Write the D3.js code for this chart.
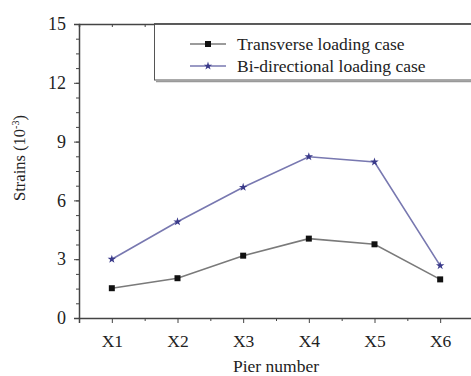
<!DOCTYPE html>
<html>
<head>
<meta charset="utf-8">
<script src="https://cdn.jsdelivr.net/npm/d3@7"></script>
<style>
  body { margin: 0; background: #fff; }
  svg text { font-family: "Liberation Serif", "Times New Roman", "DejaVu Serif", serif !important; fill: #222; }
</style>
</head>
<body>
<div class="chart"></div>
<script>
// values
const piers = ['X1', 'X2', 'X3', 'X4', 'X5', 'X6'];
const transverse = [1.52, 2.03, 3.18, 4.05, 3.76, 1.97];
const biDirectional = [3.0, 4.91, 6.67, 8.23, 7.96, 2.67];
const yTicks = [0, 3, 6, 9, 12, 15];
const seriesNames = ['Transverse loading case', 'Bi-directional loading case'];

const width = 471;
const height = 376;
const margin = { top: 24, right: -2, bottom: 58, left: 79 };
const serif = '"Liberation Serif", "Times New Roman", serif';

const svg = d3.select('.chart')
  .append('svg')
  .attr('width', width)
  .attr('height', height);

const x = d3.scaleLinear()
  .domain([0.5, 6.5])
  .range([margin.left, width - margin.right]);

const y = d3.scaleLinear()
  .domain([0, 15])
  .range([height - margin.bottom, margin.top]);

const axisColor = '#444';

// y axis, major + minor ticks
const yMinor = d3.range(0, 15.01, 0.75);
svg.append('g')
  .attr('transform', `translate(${margin.left},0)`)
  .call(d3.axisLeft(y).tickValues(yMinor).tickSize(3).tickFormat(''))
  .call(g => g.select('.domain').remove())
  .call(g => g.selectAll('line').attr('stroke', axisColor));

svg.append('g')
  .attr('transform', `translate(${margin.left},0)`)
  .attr('font-family', serif)
  .call(d3.axisLeft(y).tickValues(yTicks).tickSize(5).tickPadding(8))
  .call(g => g.select('.domain').attr('stroke', axisColor).attr('stroke-width', 1.5))
  .call(g => g.selectAll('line').attr('stroke', axisColor))
  .call(g => g.selectAll('text').attr('font-size', 18));

// x axis bottom
const xMinor = d3.range(1.5, 6.5, 1);
svg.append('g')
  .attr('transform', `translate(0,${y(0)})`)
  .call(d3.axisBottom(x).tickValues(xMinor).tickSize(3).tickFormat(''))
  .call(g => g.select('.domain').remove())
  .call(g => g.selectAll('line').attr('stroke', axisColor));

svg.append('g')
  .attr('transform', `translate(0,${y(0)})`)
  .attr('font-family', serif)
  .call(d3.axisBottom(x).tickValues(d3.range(1, 7)).tickSize(5).tickPadding(12)
    .tickFormat(d => piers[d - 1]))
  .call(g => g.select('.domain').attr('stroke', axisColor).attr('stroke-width', 1.5))
  .call(g => g.selectAll('line').attr('stroke', axisColor))
  .call(g => g.selectAll('text').attr('font-size', 17.5));

// top axis, ticks inward
svg.append('g')
  .attr('transform', `translate(0,${y(15)})`)
  .call(d3.axisBottom(x).tickValues(d3.range(1, 7).concat(xMinor)).tickSize(3).tickFormat(''))
  .call(g => g.select('.domain').attr('stroke', axisColor).attr('stroke-width', 1.5))
  .call(g => g.selectAll('line').attr('stroke', axisColor));

// axis titles
svg.append('text')
  .attr('x', x(3.5))
  .attr('y', 372)
  .attr('text-anchor', 'middle')
  .attr('font-size', 17.5)
  .text('Pier number');

const yTitle = svg.append('text')
  .attr('transform', `translate(25,158) rotate(-90)`)
  .attr('text-anchor', 'middle')
  .attr('font-size', 16.5);
yTitle.append('tspan').text('Strains (10');
yTitle.append('tspan').attr('font-size', 10).attr('dy', -6).text('-3');
yTitle.append('tspan').attr('dy', 6).text(')');

// lines
const line = d3.line()
  .x((d, i) => x(i + 1))
  .y(d => y(d));

const series = [
  { name: seriesNames[0], values: transverse, color: '#7a7a7a', marker: '#111', shape: d3.symbolSquare, size: 36 },
  { name: seriesNames[1], values: biDirectional, color: '#7878b0', marker: '#3a3a8a', shape: d3.symbolStar, size: 22 }
];

series.forEach(s => {
  svg.append('path')
    .datum(s.values)
    .attr('fill', 'none')
    .attr('stroke', s.color)
    .attr('stroke-width', 1.6)
    .attr('d', line);

  svg.selectAll(null)
    .data(s.values)
    .enter()
      .append('path')
      .attr('transform', (d, i) => `translate(${x(i + 1)},${y(d)})`)
      .attr('d', d3.symbol().type(s.shape).size(s.size))
      .attr('fill', s.marker);
});

// legend box
const legend = svg.append('g');
legend.append('rect')
  .attr('x', 154.5)
  .attr('y', y(15))
  .attr('width', 330)
  .attr('height', 56)
  .attr('fill', '#fff')
  .attr('stroke', '#555')
  .attr('stroke-width', 1);
legend.append('line')
  .attr('x1', 156).attr('x2', 480)
  .attr('y1', y(15) + 57.5).attr('y2', y(15) + 57.5)
  .attr('stroke', '#999').attr('stroke-width', 1.5);
legend.append('line')
  .attr('x1', 154).attr('x2', 480)
  .attr('y1', y(15)).attr('y2', y(15))
  .attr('stroke', axisColor).attr('stroke-width', 1.5);

series.forEach((s, i) => {
  const ly = 44 + i * 22;
  legend.append('line')
    .attr('x1', 190).attr('x2', 226)
    .attr('y1', ly).attr('y2', ly)
    .attr('stroke', s.color).attr('stroke-width', 1.6);
  legend.append('path')
    .attr('transform', `translate(208,${ly})`)
    .attr('d', d3.symbol().type(s.shape).size(s.size))
    .attr('fill', s.marker);
  legend.append('text')
    .attr('x', 237)
    .attr('y', ly + 5.5)
    .attr('font-size', 17.5)
    .text(s.name);
});
</script>
</body>
</html>
